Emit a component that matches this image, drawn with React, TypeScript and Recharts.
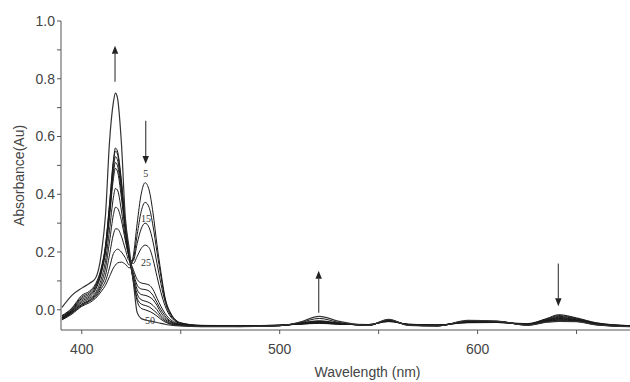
import React from "react";
import {
  LineChart,
  Line,
  XAxis,
  YAxis,
  ReferenceLine,
  ReferenceDot,
  Label,
} from "recharts";

// wavelengths (nm) sampled along the spectra
const wavelengths = [
  390, 395, 400, 404, 407, 410, 412, 414, 416, 417, 418, 420, 422, 424, 426,
  428, 430, 432, 434, 436, 438, 440, 442, 445, 450, 460, 480, 500, 510, 520,
  530, 545, 555, 565, 580, 595, 610, 625, 635, 641, 650, 660, 677,
];

// absorbance of each recorded spectrum (5 ... 50)
const s1 = [-0.035, -0.015, 0.012, 0.025, 0.04, 0.065, 0.085, 0.115, 0.145, 0.155, 0.162, 0.165, 0.158, 0.145, 0.185, 0.3, 0.4, 0.44, 0.415, 0.335, 0.225, 0.13, 0.045, -0.012, -0.045, -0.054, -0.055, -0.053, -0.05, -0.047, -0.05, -0.051, -0.041, -0.05, -0.052, -0.045, -0.044, -0.048, -0.03, -0.017, -0.028, -0.045, -0.055];
const s2 = [-0.033, -0.012, 0.015, 0.03, 0.045, 0.075, 0.1, 0.145, 0.195, 0.205, 0.21, 0.2, 0.18, 0.155, 0.175, 0.26, 0.34, 0.372, 0.355, 0.29, 0.2, 0.115, 0.04, -0.015, -0.046, -0.054, -0.056, -0.053, -0.05, -0.046, -0.05, -0.051, -0.04, -0.05, -0.053, -0.044, -0.044, -0.049, -0.032, -0.02, -0.03, -0.046, -0.055];
const s3 = [-0.032, -0.01, 0.018, 0.032, 0.05, 0.085, 0.12, 0.19, 0.262, 0.28, 0.28, 0.255, 0.21, 0.17, 0.17, 0.23, 0.28, 0.3, 0.285, 0.235, 0.16, 0.09, 0.03, -0.02, -0.047, -0.055, -0.056, -0.054, -0.049, -0.045, -0.049, -0.052, -0.039, -0.051, -0.053, -0.043, -0.043, -0.05, -0.034, -0.023, -0.032, -0.047, -0.056];
const s4 = [-0.03, -0.008, 0.02, 0.035, 0.055, 0.095, 0.145, 0.235, 0.33, 0.355, 0.352, 0.31, 0.24, 0.18, 0.16, 0.185, 0.212, 0.224, 0.215, 0.175, 0.115, 0.06, 0.015, -0.025, -0.048, -0.055, -0.056, -0.054, -0.049, -0.044, -0.049, -0.052, -0.038, -0.051, -0.053, -0.042, -0.043, -0.05, -0.036, -0.026, -0.034, -0.048, -0.056];
const s5 = [-0.03, -0.006, 0.025, 0.04, 0.06, 0.11, 0.17, 0.275, 0.39, 0.42, 0.415, 0.345, 0.25, 0.18, 0.14, 0.105, 0.093, 0.09, 0.086, 0.07, 0.04, 0.012, -0.012, -0.035, -0.05, -0.056, -0.057, -0.054, -0.048, -0.043, -0.048, -0.053, -0.037, -0.052, -0.054, -0.041, -0.042, -0.051, -0.037, -0.028, -0.035, -0.049, -0.057];
const s6 = [-0.028, -0.004, 0.03, 0.045, 0.07, 0.13, 0.2, 0.32, 0.455, 0.49, 0.48, 0.39, 0.27, 0.18, 0.13, 0.085, 0.072, 0.07, 0.065, 0.05, 0.025, 0.0, -0.02, -0.04, -0.051, -0.056, -0.057, -0.054, -0.048, -0.042, -0.048, -0.053, -0.036, -0.052, -0.054, -0.04, -0.042, -0.051, -0.038, -0.03, -0.036, -0.05, -0.057];
const s7 = [-0.026, -0.002, 0.035, 0.05, 0.075, 0.135, 0.205, 0.33, 0.475, 0.51, 0.5, 0.41, 0.28, 0.18, 0.12, 0.07, 0.053, 0.05, 0.045, 0.035, 0.015, -0.01, -0.027, -0.042, -0.052, -0.057, -0.057, -0.055, -0.047, -0.041, -0.047, -0.053, -0.036, -0.052, -0.055, -0.04, -0.041, -0.052, -0.039, -0.032, -0.037, -0.05, -0.057];
const s8 = [-0.024, 0.0, 0.04, 0.055, 0.08, 0.14, 0.215, 0.345, 0.49, 0.53, 0.52, 0.425, 0.29, 0.18, 0.11, 0.055, 0.035, 0.03, 0.025, 0.015, 0.0, -0.02, -0.033, -0.045, -0.053, -0.057, -0.058, -0.055, -0.047, -0.04, -0.047, -0.054, -0.035, -0.053, -0.055, -0.039, -0.041, -0.052, -0.04, -0.034, -0.038, -0.051, -0.058];
const s9 = [-0.022, 0.003, 0.045, 0.06, 0.085, 0.145, 0.22, 0.36, 0.51, 0.55, 0.54, 0.44, 0.3, 0.185, 0.105, 0.04, 0.02, 0.015, 0.01, 0.0, -0.012, -0.027, -0.038, -0.048, -0.054, -0.057, -0.058, -0.055, -0.046, -0.038, -0.046, -0.054, -0.035, -0.053, -0.056, -0.039, -0.04, -0.053, -0.041, -0.036, -0.039, -0.051, -0.058];
const s10 = [-0.02, 0.006, 0.05, 0.065, 0.09, 0.15, 0.225, 0.365, 0.52, 0.56, 0.55, 0.45, 0.305, 0.19, 0.1, 0.03, 0.005, 0.0, -0.005, -0.012, -0.022, -0.033, -0.042, -0.05, -0.055, -0.058, -0.058, -0.055, -0.045, -0.03, -0.044, -0.054, -0.034, -0.053, -0.056, -0.038, -0.04, -0.053, -0.042, -0.038, -0.04, -0.052, -0.058];
const s11 = [0.008, 0.05, 0.075, 0.092, 0.11, 0.2, 0.33, 0.58, 0.72, 0.75, 0.735, 0.58, 0.32, 0.21, 0.1, -0.01, -0.03, -0.035, -0.038, -0.041, -0.044, -0.047, -0.05, -0.053, -0.056, -0.058, -0.058, -0.055, -0.043, -0.023, -0.04, -0.054, -0.033, -0.054, -0.056, -0.037, -0.039, -0.053, -0.043, -0.04, -0.041, -0.052, -0.058];

const seriesList = [s1, s2, s3, s4, s5, s6, s7, s8, s9, s10, s11];

const xTicks = [400, 450, 500, 550, 600, 650];
const xLabelled = [400, 500, 600];
const yTicks = [0, 0.1, 0.2, 0.3, 0.4, 0.5, 0.6, 0.7, 0.8, 0.9, 1.0];

// curve labels (time) and arrows showing the trend
const curveLabels = [
  { text: "5", x: 432.3, y: 0.472 },
  { text: "15", x: 432.5, y: 0.318 },
  { text: "25", x: 432.5, y: 0.165 },
  { text: "50", x: 434.5, y: -0.036 },
];
const arrows = [
  { x: 416.8, from: 0.79, to: 0.914 },
  { x: 432.3, from: 0.655, to: 0.505 },
  { x: 519.7, from: -0.01, to: 0.135 },
  { x: 640.8, from: 0.16, to: 0.012 },
];

const data = wavelengths.map((w, i) => {
  const row: Record<string, number> = { w };
  seriesList.forEach((s, k) => {
    row["s" + (k + 1)] = s[i];
  });
  return row;
});

const FONT = "'Liberation Sans', Arial, sans-serif";
const TEXT = "#444";
const AXIS = "#555";

const ArrowShape = (props: any) => {
  const { x1, y1, x2, y2 } = props;
  const dir = y2 < y1 ? -1 : 1;
  const headLen = 8;
  const headW = 3.2;
  return (
    <g>
      <line x1={x1} y1={y1} x2={x2} y2={y2 - dir * headLen} stroke="#555" strokeWidth={1.3} />
      <polygon
        points={`${x2},${y2} ${x2 - headW},${y2 - dir * headLen} ${x2 + headW},${y2 - dir * headLen}`}
        fill="#222"
      />
    </g>
  );
};

const YTitle = (props: any) => {
  const vb = props.viewBox;
  const cx = 19;
  const cy = vb.y + vb.height / 2;
  return (
    <text
      x={cx}
      y={cy}
      transform={`rotate(-90 ${cx} ${cy})`}
      textAnchor="middle"
      dominantBaseline="central"
      fontSize={14}
      fontFamily={FONT}
      fill={TEXT}
    >
      Absorbance(Au)
    </text>
  );
};

const XTitle = (props: any) => {
  const vb = props.viewBox;
  const cx = vb.x + vb.width / 2 + 22;
  return (
    <text
      x={cx}
      y={377}
      textAnchor="middle"
      fontSize={14}
      fontFamily={FONT}
      fill={TEXT}
    >
      Wavelength (nm)
    </text>
  );
};

export default function App() {
  return (
    <div style={{ position: "absolute", left: 0, top: 0, background: "#fff" }}>
      <LineChart
        width={630}
        height={382}
        data={data}
        margin={{ top: 21, right: 0, left: 0, bottom: 0 }}
      >
        <XAxis
          dataKey="w"
          type="number"
          domain={[389.5, 677]}
          ticks={xTicks}
          tickFormatter={(v: number) => (xLabelled.includes(v) ? String(v) : "")}
          height={52}
          tickSize={4}
          tickMargin={10}
          stroke={AXIS}
          tick={{ fontSize: 14, fontFamily: FONT, fill: TEXT }}
        >
          <Label content={XTitle} />
        </XAxis>
        <YAxis
          type="number"
          domain={[-0.07, 1]}
          ticks={yTicks}
          tickFormatter={(v: number) =>
            Math.round(v * 10) % 2 === 0 ? v.toFixed(1) : ""
          }
          width={61}
          tickSize={4}
          tickMargin={2}
          stroke={AXIS}
          tick={{ fontSize: 14, fontFamily: FONT, fill: TEXT }}
        >
          <Label content={YTitle} />
        </YAxis>
        {seriesList.map((_, k) => (
          <Line
            key={k}
            dataKey={"s" + (k + 1)}
            type="monotone"
            stroke={k === 10 ? "#333" : "#1a1a1a"}
            strokeWidth={k === 10 ? 1.2 : 1}
            dot={false}
            isAnimationActive={false}
          />
        ))}
        {arrows.map((a, i) => (
          <ReferenceLine
            key={"a" + i}
            segment={[
              { x: a.x, y: a.from },
              { x: a.x, y: a.to },
            ]}
            shape={ArrowShape}
          />
        ))}
        {curveLabels.map((c, i) => (
          <ReferenceDot
            key={"l" + i}
            x={c.x}
            y={c.y}
            r={1}
            fill="none"
            stroke="none"
            label={{
              value: c.text,
              position: "center",
              fontSize: 10,
              fontFamily: "'Liberation Serif', serif",
              fill: "#333",
            }}
          />
        ))}
      </LineChart>
    </div>
  );
}
